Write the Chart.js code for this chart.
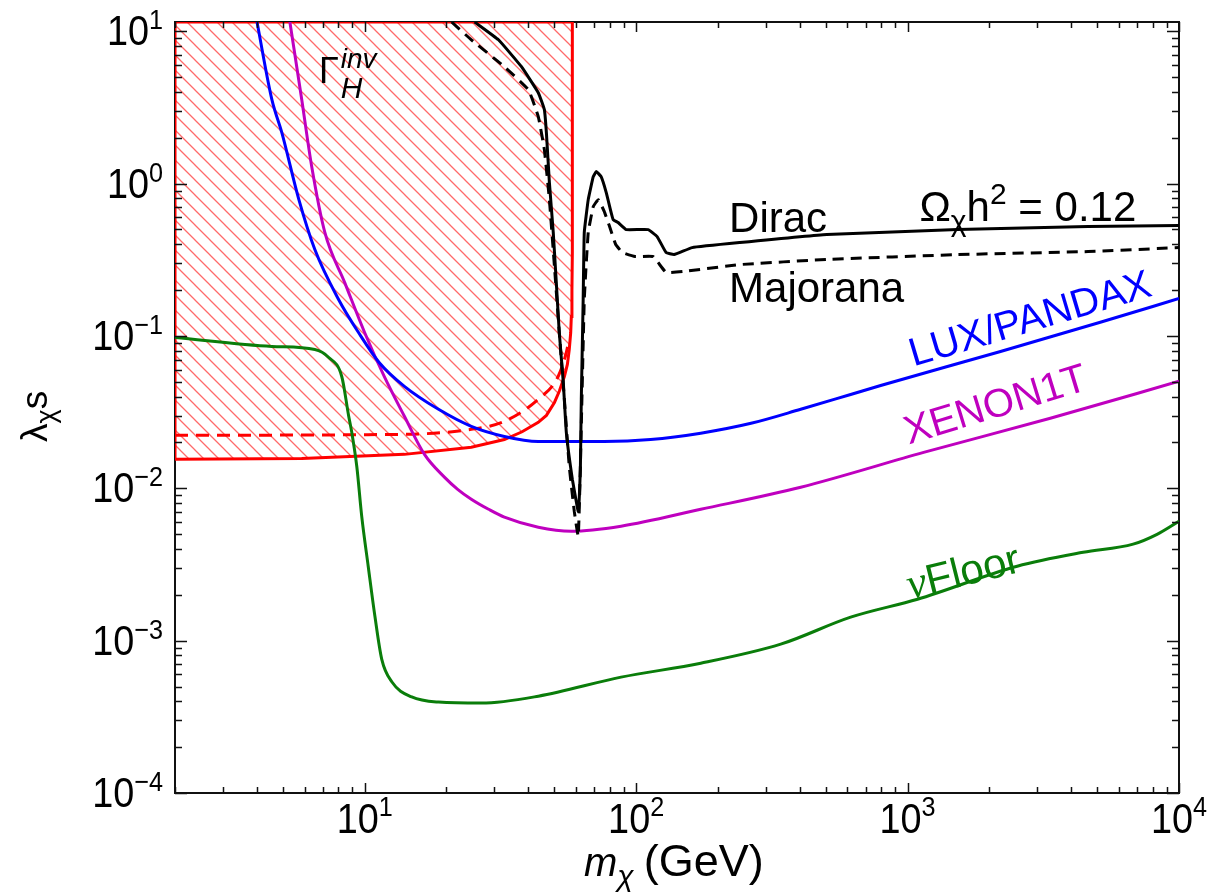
<!DOCTYPE html>
<html>
<head>
<meta charset="utf-8">
<script src="https://cdn.jsdelivr.net/npm/chart.js@4.4.1/dist/chart.umd.min.js"></script>
<style>
  html, body { margin: 0; padding: 0; background: #fff; }
  canvas { display: block; }
</style>
</head>
<body>
<canvas id="relic" width="1209" height="892"></canvas>
<script>
// decade exponents used for the tick labels
const xTickExps = [1, 2, 3, 4];
const yTickExps = [-4, -3, -2, -1, 0, 1];

// relic density line, Dirac fermion
const diracMass = [25.4, 31.1, 37.8, 43.6, 45.9, 46.7, 47.9, 49.5, 50.8, 52.1, 53.9, 55.3, 58.2, 60.7, 61.2, 61.7, 62.3, 62.8, 63.8, 64.4, 66.6, 69.5, 71.3, 74.3, 77.6, 80.9, 82.3, 85.8, 91.9, 110.7, 119.5, 128.9, 138, 160.7, 241, 504, 1528, 4624, 10000];
const diracLambda = [11.5, 8.79, 5.85, 3.95, 3.06, 2.16, 1.02, 0.478, 0.224, 0.105, 0.0495, 0.0233, 0.01146, 0.0075, 0.00706, 0.0085, 0.0133, 0.0384, 0.173, 0.478, 0.785, 1.11, 1.20, 1.11, 0.873, 0.645, 0.581, 0.555, 0.499, 0.499, 0.449, 0.353, 0.342, 0.380, 0.410, 0.463, 0.499, 0.522, 0.531];

// relic density line, Majorana fermion
const majMass = [20.9, 24.7, 32.7, 40.1, 43.6, 45.9, 47.9, 50.0, 52.1, 54.4, 56.7, 59.2, 61.2, 62.3, 64.4, 66.6, 69.5, 72.5, 76.2, 79.6, 84, 88.9, 99.1, 115.5, 128.9, 149, 241, 504, 1528, 4624, 10000];
const majLambda = [11.5, 8.79, 5.85, 4.13, 2.75, 1.67, 0.785, 0.286, 0.105, 0.0384, 0.0139, 0.0070, 0.00484, 0.0139, 0.173, 0.478, 0.706, 0.785, 0.66, 0.53, 0.40, 0.353, 0.332, 0.332, 0.261, 0.265, 0.294, 0.318, 0.342, 0.358, 0.380];

// LUX/PANDAX limit
const luxMass = [4.01, 4.55, 4.95, 5.72, 6.55, 8.02, 9.5, 11.3, 14.0, 18.7, 24.7, 32.7, 43.6, 76.2, 113, 173, 265, 404, 617, 796, 2200, 5130, 10000];
const luxLambda = [11.5, 3.56, 2.16, 0.785, 0.369, 0.173, 0.105, 0.067, 0.0467, 0.033, 0.0255, 0.0219, 0.0203, 0.0203, 0.0209, 0.023, 0.0267, 0.033, 0.0413, 0.0473, 0.079, 0.123, 0.176];

// XENON1T projection
const xenonMass = [5.30, 5.86, 6.38, 7.13, 8.44, 10, 11.8, 14.0, 16.6, 19.7, 22, 24.7, 28.6, 32.7, 43.6, 57.7, 88, 173, 404, 1146, 3357, 10000];
const xenonLambda = [11.5, 3.56, 1.29, 0.478, 0.224, 0.105, 0.0542, 0.0297, 0.0167, 0.0118, 0.00985, 0.00848, 0.00728, 0.00646, 0.00555, 0.00523, 0.00564, 0.00728, 0.01016, 0.0172, 0.0288, 0.0504];

// neutrino floor
const floorMass = [2, 4.55, 6.55, 7.37, 8.23, 8.73, 8.96, 9.35, 9.75, 10.3, 10.9, 11.55, 12.6, 14.9, 18.7, 26.9, 43.6, 88, 173, 341, 617, 1088, 2535, 4436, 6776, 8300, 10000];
const floorLambda = [0.0977, 0.0853, 0.0815, 0.0722, 0.0542, 0.0297, 0.0233, 0.0139, 0.00655, 0.00308, 0.00145, 0.000757, 0.000535, 0.000427, 0.000395, 0.000389, 0.000432, 0.000576, 0.000711, 0.000948, 0.001426, 0.00187, 0.00308, 0.0038, 0.0043, 0.00499, 0.00608];

// Higgs invisible width, excluded region (closed outline)
const invMass = [2, 5.86, 14.0, 24.7, 32.7, 38, 43.6, 46.7, 50.0, 52.1, 54.4, 55.8, 56.7, 57.4, 57.7, 58.0, 58.2, 58.2, 2, 2];
const invLambda = [0.0155, 0.0157, 0.0167, 0.0186, 0.0209, 0.0235, 0.0271, 0.0301, 0.0366, 0.0433, 0.0542, 0.065, 0.0815, 0.105, 0.134, 0.202, 0.35, 11.5, 11.5, 0.0155];

// Higgs invisible width, future reach
const invFutMass = [2, 13.7, 24.7, 32.7, 43.6, 51.6, 55.3, 56.6];
const invFutLambda = [0.0223, 0.0226, 0.0244, 0.0275, 0.0384, 0.0542, 0.078, 0.095];

const SANS = '"Liberation Sans", Arial, Helvetica, sans-serif';
const SERIF = '"Liberation Serif", "Times New Roman", serif';

const pts = (xs, ys) => xs.map((x, i) => ({ x: x, y: ys[i] }));

function hatch() {
    const c = document.createElement('canvas');
    c.width = 15;
    c.height = 15;
    const g = c.getContext('2d');
    g.strokeStyle = 'rgba(255,80,80,0.85)';
    g.lineWidth = 1.3;
    g.beginPath();
    g.moveTo(-2, -2); g.lineTo(17, 17);
    g.moveTo(-2, 13); g.lineTo(2, 17);
    g.moveTo(13, -2); g.lineTo(17, 2);
    g.stroke();
    return g.createPattern(c, 'repeat');
}

// text written piece by piece, so sub/superscripts can be mixed in
function drawRuns(ctx, parts, x, y) {
    let cx = x;
    for (const p of parts) {
        ctx.save();
        ctx.font = p.f;
        ctx.translate(cx, y + (p.dy || 0));
        ctx.scale(p.sq || 1, 1);
        ctx.fillText(p.t, 0, 0);
        cx += ctx.measureText(p.t).width * (p.sq || 1) + (p.gap || 0);
        ctx.restore();
    }
    return cx - x;
}
function runsWidth(ctx, parts) {
    let w = 0;
    for (const p of parts) {
        ctx.font = p.f;
        w += ctx.measureText(p.t).width * (p.sq || 1) + (p.gap || 0);
    }
    return w;
}

const frame = {
    id: 'frame',
    beforeDatasetsDraw(chart) {
        const { ctx, chartArea: a } = chart;
        ctx.save();
        ctx.strokeStyle = '#111';
        ctx.lineWidth = 2;
        ctx.strokeRect(a.left, a.top, a.right - a.left, a.bottom - a.top);
        ctx.restore();
    },
    afterDatasetsDraw(chart) {
        const { ctx, chartArea: a } = chart;
        const xs = chart.scales.x, ys = chart.scales.y;
        ctx.save();
        ctx.strokeStyle = '#111';
        ctx.lineWidth = 1.5;
        ctx.beginPath();
        for (let e = 0; e <= 4; e++) {
            for (let k = 1; k <= 9; k++) {
                const v = k * Math.pow(10, e);
                if (v < xs.min || v > xs.max) continue;
                const px = Math.round(xs.getPixelForValue(v)) + 0.5;
                const len = k === 1 ? 10 : 6;
                ctx.moveTo(px, a.bottom); ctx.lineTo(px, a.bottom - len);
                ctx.moveTo(px, a.top); ctx.lineTo(px, a.top + len);
            }
        }
        for (let e = -4; e <= 1; e++) {
            for (let k = 1; k <= 9; k++) {
                const v = k * Math.pow(10, e);
                if (v < ys.min || v > ys.max) continue;
                const py = Math.round(ys.getPixelForValue(v)) + 0.5;
                const len = k === 1 ? 12 : 7;
                ctx.moveTo(a.left, py); ctx.lineTo(a.left + len, py);
                ctx.moveTo(a.right, py); ctx.lineTo(a.right - len, py);
            }
        }
        ctx.stroke();
        ctx.restore();
    },
    afterDraw(chart) {
        const { ctx, chartArea: a } = chart;
        const xs = chart.scales.x, ys = chart.scales.y;
        const big = '42px ' + SANS, small = '28px ' + SANS;
        ctx.save();
        ctx.fillStyle = '#000';
        ctx.textBaseline = 'alphabetic';

        xTickExps.forEach((e) => {
            const parts = [{ t: '10', f: big, sq: 0.9 }, { t: String(e), f: small, dy: -17, sq: 0.9 }];
            const w = runsWidth(ctx, parts);
            drawRuns(ctx, parts, xs.getPixelForValue(Math.pow(10, e)) - w / 2, a.bottom + 40);
        });
        yTickExps.forEach((e) => {
            const ex = e < 0 ? '\u2212' + (-e) : String(e);
            const parts = [{ t: '10', f: big, sq: 0.9 }, { t: ex, f: small, dy: -16, sq: 0.9 }];
            const w = runsWidth(ctx, parts);
            drawRuns(ctx, parts, a.left - 12 - w, ys.getPixelForValue(Math.pow(10, e)) + 14);
        });

        // axis titles
        drawRuns(ctx, [
            { t: 'm', f: 'italic 40px ' + SANS },
            { t: '\u03c7', f: 'italic 30px ' + SANS, dy: 10, gap: 10 },
            { t: '(GeV)', f: '45px ' + SANS }
        ], 584, 876);
        ctx.save();
        ctx.translate(47, 442);
        ctx.rotate(-Math.PI / 2);
        drawRuns(ctx, [
            { t: '\u03bb', f: '37px ' + SANS },
            { t: '\u03c7', f: '27px ' + SANS, dy: 8 },
            { t: 's', f: '37px ' + SANS }
        ], 0, 0);
        ctx.restore();

        const at = (mx, ly) => [xs.getPixelForValue(mx), ys.getPixelForValue(ly)];
        const lab = '42px ' + SANS;

        // Gamma_H^inv
        let [gx, gy] = at(6.78, 4.59);
        ctx.font = '36px ' + SANS;
        ctx.fillText('\u0393', gx, gy);
        const gw = ctx.measureText('\u0393').width + 2;
        ctx.font = 'italic 28px ' + SANS;
        ctx.fillText('inv', gx + gw, gy - 15);
        ctx.font = 'italic 30px ' + SANS;
        ctx.fillText('H', gx + gw, gy + 15);

        let [dx, dy] = at(220, 0.478);
        drawRuns(ctx, [{ t: 'Dirac', f: lab }], dx, dy);
        [dx, dy] = at(220, 0.168);
        drawRuns(ctx, [{ t: 'Majorana', f: lab }], dx, dy);
        [dx, dy] = at(1164, 0.564);
        drawRuns(ctx, [
            { t: '\u03a9', f: lab },
            { t: '\u03c7', f: '30px ' + SANS, dy: 10 },
            { t: 'h', f: lab },
            { t: '2', f: '30px ' + SANS, dy: -17 },
            { t: ' = 0.12', f: lab }
        ], dx - 6, dy);

        const slanted = (mx, ly, deg, color, parts) => {
            const [px, py] = at(mx, ly);
            ctx.save();
            ctx.fillStyle = color;
            ctx.translate(px, py);
            ctx.rotate(deg * Math.PI / 180);
            drawRuns(ctx, parts, 0, 0);
            ctx.restore();
        };
        slanted(1052, 0.063, -16.5, '#0000ff', [{ t: 'LUX/PANDAX', f: '40px ' + SANS }]);
        slanted(1010, 0.0194, -17, '#bf00bf', [{ t: 'XENON1T', f: '40px ' + SANS }]);
        slanted(1026, 0.00187, -14, '#0a7d0a', [
            { t: '\u03bd', f: 'italic 44px ' + SERIF },
            { t: 'Floor', f: '42px ' + SANS }
        ]);
        ctx.restore();
    }
};

const line = (data, color, extra) => Object.assign({
    data: data,
    borderColor: color,
    backgroundColor: color,
    borderWidth: 3,
    showLine: true,
    fill: false,
    pointRadius: 0,
    cubicInterpolationMode: 'monotone'
}, extra || {});

const relic = new Chart(
    document.getElementById('relic'),
    {
        type: 'scatter',
        data: {
            datasets: [
                line(pts(diracMass, diracLambda), '#000', { cubicInterpolationMode: 'default', tension: 0.1, order: 0 }),
                line(pts(majMass, majLambda), '#000', { cubicInterpolationMode: 'default', tension: 0.1, borderDash: [11, 7], order: 1 }),
                line(pts(luxMass, luxLambda), '#0000ff', { order: 2 }),
                line(pts(xenonMass, xenonLambda), '#bf00bf', { order: 3 }),
                line(pts(floorMass, floorLambda), '#0a7d0a', { order: 4 }),
                line(pts(invFutMass, invFutLambda), '#ff0000', { borderDash: [13, 8], order: 5 }),
                line(pts(invMass, invLambda), '#ff0000', { cubicInterpolationMode: 'default', tension: 0, backgroundColor: hatch(), fill: 'shape', order: 10 })
            ]
        },
        options: {
            responsive: false,
            devicePixelRatio: 1,
            animation: false,
            layout: {
                padding: { left: 175, right: 30, top: 22, bottom: 99 }
            },
            scales: {
                x: { type: 'logarithmic', min: 2, max: 10000, display: false },
                y: { type: 'logarithmic', min: 1e-4, max: 11.5, display: false }
            },
            plugins: {
                legend: { display: false },
                tooltip: { enabled: false }
            }
        },
        plugins: [frame]
    }
)
</script>
</body>
</html>
